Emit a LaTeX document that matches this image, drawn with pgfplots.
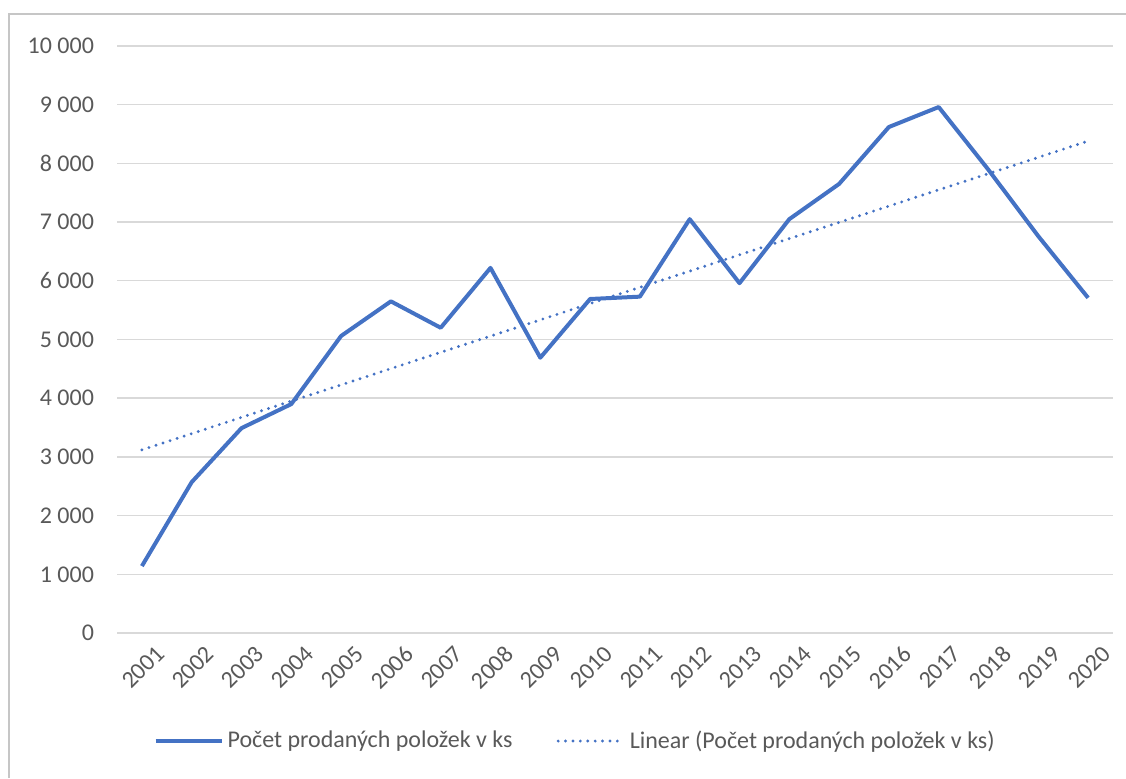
\documentclass[border=0pt]{standalone}
\usepackage{pgfplots}
\pgfplotsset{compat=1.18}
\usepackage{fontspec}
\setmainfont{Carlito}
\definecolor{excelblue}{HTML}{4472C4}
\definecolor{txt}{HTML}{595959}
\definecolor{gridc}{HTML}{D9D9D9}
\begin{document}
\begin{tikzpicture}
\path[use as bounding box] (0,0) rectangle (563pt,389pt);
\draw[gray!45, line width=1.2pt] (4.5pt,0) -- (4.5pt,382pt) -- (563pt,382pt);
\begin{axis}[
  at={(58.5pt,72.5pt)}, anchor=south west,
  scale only axis, width=498pt, height=293.5pt,
  xmin=-0.5, xmax=19.5, ymin=0, ymax=10000,
  xtick={0,...,19},
  xticklabels={2001,2002,2003,2004,2005,2006,2007,2008,2009,2010,2011,2012,2013,2014,2015,2016,2017,2018,2019,2020},
  ytick={0,1000,...,10000},
  scaled y ticks=false,
  axis line style={draw=none},
  major tick length=0pt,
  ymajorgrids, xmajorgrids=false,
  grid style={draw=gridc, line width=0.7pt},
  tick label style={font=\fontsize{12}{14}\selectfont, text=txt},
  xticklabel style={rotate=45, anchor=north east, xshift=4pt, yshift=-5pt},
  yticklabel style={xshift=-8pt},
  /pgf/number format/assume math mode=true,
  /pgf/number format/1000 sep={\ },
  legend style={at={(0.461,-0.184)}, anchor=center, draw=none, fill=none,
    font=\fontsize{12}{14}\selectfont, text=txt, legend columns=2,
    /tikz/every even column/.append style={column sep=20pt}},
  legend cell align=left,
  legend image code/.code={\draw[#1] (0pt,0pt) -- (33pt,0pt);},
  clip=false,
]
\addplot[excelblue, line width=2pt, line join=round] coordinates {
(0,1140) (1,2570) (2,3490) (3,3900) (4,5060) (5,5650) (6,5200) (7,6220) (8,4690) (9,5690)
(10,5730) (11,7050) (12,5960) (13,7050) (14,7650) (15,8620) (16,8960) (17,7890) (18,6760) (19,5710)};
\addlegendentry{Počet prodaných položek v ks}
\addplot[excelblue, line width=1.6pt, line cap=round, dash pattern=on 0pt off 3.7pt] coordinates {
(0,3120) (19,8380)};
\addlegendentry{Linear (Počet prodaných položek v ks)}
\end{axis}
\end{tikzpicture}
\end{document}
